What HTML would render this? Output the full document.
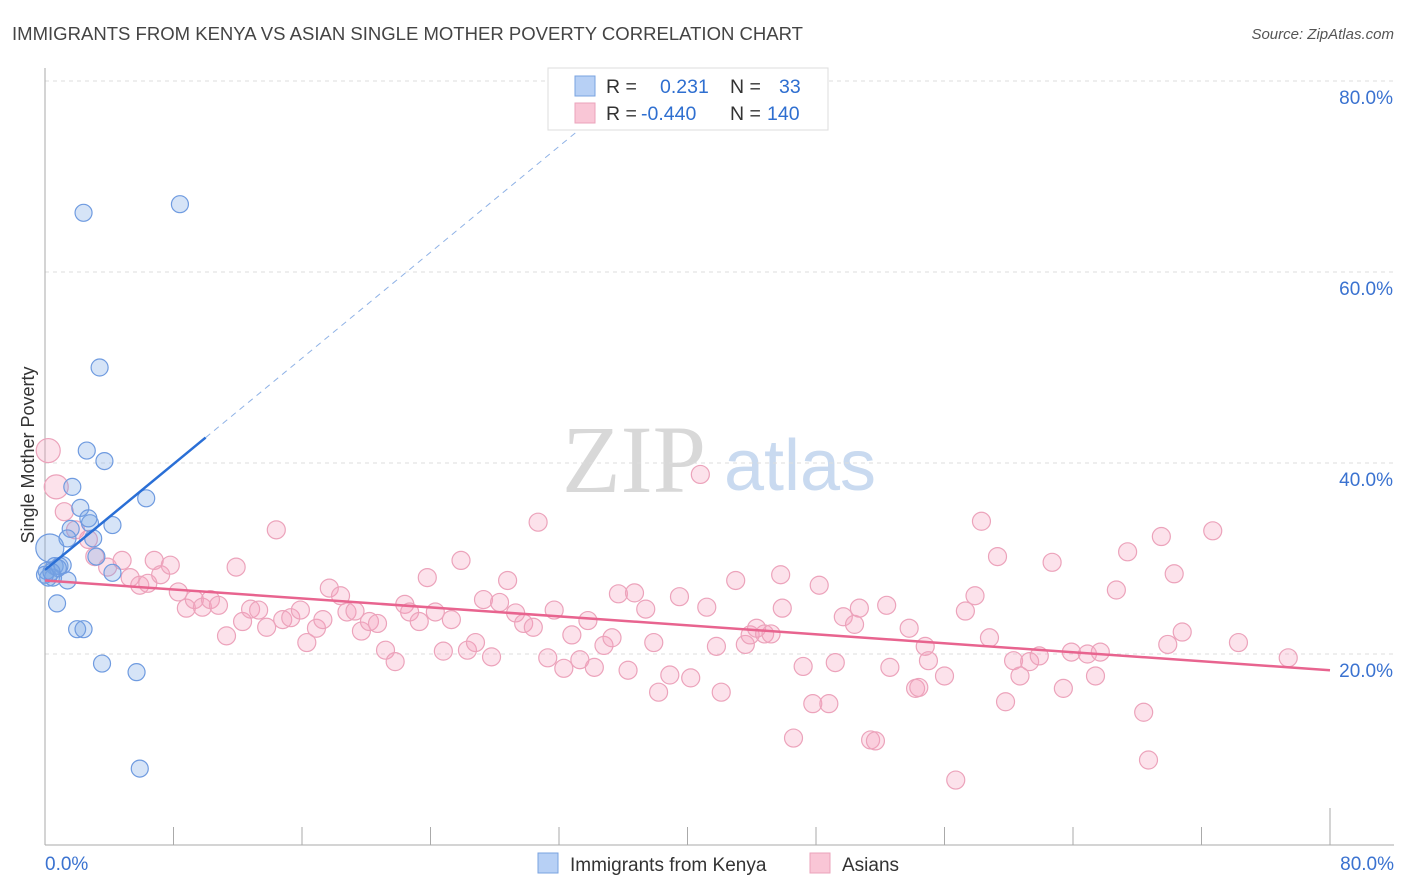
<!DOCTYPE html>
<html><head><meta charset="utf-8"><style>
body{margin:0;background:#fff;font-family:"Liberation Sans",sans-serif;}
svg{display:block}
</style></head><body>
<svg id="chart" width="1406" height="892" xmlns="http://www.w3.org/2000/svg">
<text x="12" y="40" font-size="18.5" fill="#444" textLength="791" lengthAdjust="spacingAndGlyphs">IMMIGRANTS FROM KENYA VS ASIAN SINGLE MOTHER POVERTY CORRELATION CHART</text>
<text x="1394" y="39" font-size="15" fill="#555" font-style="italic" text-anchor="end">Source: ZipAtlas.com</text>
<text x="634" y="492" font-size="96" font-family="Liberation Serif,serif" fill="#d8d8d8" text-anchor="middle">ZIP</text>
<text x="800" y="490" font-size="72" fill="#c9daf0" text-anchor="middle">atlas</text>
<text x="34" y="455" font-size="18" fill="#333" text-anchor="middle" transform="rotate(-90 34 455)">Single Mother Poverty</text>
<g id="grid"></g><g id="axes"></g><g id="pts"></g><g id="lines"></g>
<g>
<rect x="548" y="68" width="280" height="62" fill="#fff" stroke="#ddd"/>
<rect x="575" y="76" width="20" height="20" fill="#b7d0f5" stroke="#7aa3e0"/>
<rect x="575" y="103" width="20" height="20" fill="#f9c6d6" stroke="#eba3bb"/>
<text x="606" y="93" font-size="19.5" fill="#333">R = <tspan x="660" fill="#2f6fd0">0.231</tspan><tspan x="730" fill="#333">N =</tspan><tspan x="779" fill="#2f6fd0">33</tspan></text>
<text x="606" y="120" font-size="19.5" fill="#333">R = <tspan x="641" fill="#2f6fd0">-0.440</tspan><tspan x="730" fill="#333">N =</tspan><tspan x="767" fill="#2f6fd0">140</tspan></text>
</g>
<g>
<rect x="538" y="853" width="20" height="20" fill="#b7d0f5" stroke="#7aa3e0"/>
<text x="570" y="871" font-size="19" fill="#333">Immigrants from Kenya</text>
<rect x="810" y="853" width="20" height="20" fill="#f9c6d6" stroke="#eba3bb"/>
<text x="842" y="871" font-size="19" fill="#333">Asians</text>
</g>
</svg>
<script>
const yTicks=[20,40,60,80];
const yTickLabels=["20.0%","40.0%","60.0%","80.0%"];
const xTicks=[0,8,16,24,32,40,48,56,64,72,80];
const xEndLabels=["0.0%","80.0%"];
const kenyaX=[2.4,8.4,3.4,2.6,3.7,1.7,6.3,2.2,4.2,2.8,1.6,1.4,3.0,3.2,4.2,0.75,2.0,2.4,3.55,5.7,5.9,0.3,0.6,0.9,0.2,0.5,1.4,1.1,0.1,0.8,0,2.7,0.4];
const kenyaY=[66.2,67.1,50.0,41.3,40.2,37.5,36.3,35.3,33.5,33.7,33.1,32.1,32.1,30.2,28.5,25.3,22.6,22.6,19.0,18.1,8.0,31.1,29.2,29.2,28.0,28.0,27.7,29.3,28.7,29.0,28.3,34.2,28.6];
const asianX=[0.2,0.7,1.2,1.9,2.7,3.1,3.9,4.8,5.3,5.9,6.4,6.8,7.2,7.8,8.3,8.8,9.3,9.8,10.3,10.8,11.3,11.9,12.3,12.8,13.3,13.8,14.4,14.8,15.3,15.9,16.3,16.9,17.3,17.7,18.4,18.8,19.3,19.7,20.2,20.7,21.2,21.8,22.4,22.7,23.3,23.8,24.3,24.8,25.3,25.9,26.3,26.8,27.3,27.8,28.3,28.8,29.3,29.8,30.4,30.7,31.3,31.7,32.3,32.8,33.3,33.8,34.2,34.8,35.3,35.7,36.3,36.7,37.4,37.9,38.2,38.9,39.5,40.2,40.8,41.2,41.8,42.1,43.0,43.6,43.9,44.3,44.8,45.2,45.8,45.9,46.6,47.2,47.8,48.2,48.8,49.2,49.7,50.4,50.7,51.4,51.7,52.4,52.6,53.8,54.2,54.4,54.8,55.0,56.0,56.7,57.3,57.9,58.3,58.8,59.3,59.8,60.3,60.7,61.3,61.9,62.7,63.4,63.9,64.9,65.4,65.7,66.7,67.4,68.4,68.7,69.5,69.9,70.3,70.8,72.7,74.3,77.4];
const asianY=[41.3,37.5,34.9,33.0,32.0,30.2,29.1,29.8,28.0,27.2,27.4,29.8,28.3,29.3,26.5,24.8,25.7,24.9,25.7,25.1,21.9,29.1,23.4,24.7,24.6,22.8,33.0,23.6,23.8,24.6,21.2,22.7,23.6,26.9,26.1,24.4,24.5,22.4,23.4,23.2,20.4,19.2,25.2,24.4,23.4,28.0,24.4,20.3,23.6,29.8,20.4,21.2,25.7,19.7,25.4,27.7,24.3,23.2,22.8,33.8,19.6,24.6,18.5,22.0,19.4,23.5,18.6,20.9,21.7,26.3,18.3,26.4,24.7,21.2,16.0,17.8,26.0,17.5,38.8,24.9,20.8,16.0,27.7,21.0,22.0,22.7,22.1,22.1,28.3,24.8,11.2,18.7,14.8,27.2,14.8,19.1,23.9,23.1,24.8,11.0,10.9,25.1,18.6,22.7,16.4,16.5,20.8,19.3,17.7,6.8,24.5,26.1,33.9,21.7,30.2,15.0,19.3,17.7,19.2,19.8,29.6,16.4,20.2,20.0,17.7,20.2,26.7,30.7,13.9,8.9,32.3,21.0,28.4,22.3,32.9,21.2,19.6];
const kenyaBig=[21];
const asianBig=[0,1];
const kenyaTrend=[28.8,1.386];
const kenyaTrendEnd=10;
const asianTrend=[27.7,-0.1175];

const NS="http://www.w3.org/2000/svg";
const X0=45,X1=1330,Y0=845,Y80=81;
const sx=v=>X0+(v/80)*(X1-X0);
const sy=v=>Y0-(v/80)*(Y0-Y80);
function mk(tag,attrs,parent){const e=document.createElementNS(NS,tag);for(const k in attrs)e.setAttribute(k,attrs[k]);parent.appendChild(e);return e;}
const grid=document.getElementById('grid'),axes=document.getElementById('axes'),pts=document.getElementById('pts'),lines=document.getElementById('lines');
yTicks.forEach((t,i)=>{
  const l=mk('line',{x1:X0,x2:1394,y1:sy(t),y2:sy(t),stroke:'#ddd','stroke-dasharray':'4 4'},grid);
  
  
  const tx=mk('text',{x:1393,y:sy(t)+23,'font-size':19,fill:'#3a72d0','text-anchor':'end'},grid);
  tx.textContent=yTickLabels[i];
  
  
});
const ax=mk('line',{x1:X0,x2:1394,y1:Y0,y2:Y0,stroke:'#aaa'},axes);


const ay=mk('line',{x1:X0,x2:X0,y1:68,y2:Y0,stroke:'#aaa'},axes);


xTicks.forEach((t,i)=>{
  const tk=mk('line',{x1:sx(t),x2:sx(t),y1:(i==xTicks.length-1?808:827),y2:Y0,stroke:'#aaa'},axes);
  
  
});
[[0,45,'start'],[1,1394,'end']].forEach(([i,x,a])=>{
  const t=mk('text',{x:x,y:870,'font-size':19,fill:'#3a72d0','text-anchor':a},axes);
  t.textContent=xEndLabels[i];
  
  
});
asianX.forEach((v,i)=>{
  const c=mk('circle',{cx:sx(v),cy:sy(asianY[i]),r:asianBig.includes(i)?12:9,fill:'rgba(244,160,188,0.3)',stroke:'#eca3bb','stroke-width':1.2},pts);
  
  
});
kenyaX.forEach((v,i)=>{
  const c=mk('circle',{cx:sx(v),cy:sy(kenyaY[i]),r:kenyaBig.includes(i)?14:8.5,fill:'rgba(120,165,230,0.3)',stroke:'#6f9be0','stroke-width':1.2},pts);
  
  
});
const pl=mk('line',{x1:sx(0),y1:sy(asianTrend[0]),x2:sx(80),y2:sy(asianTrend[0]+80*asianTrend[1]),stroke:'#e8648f','stroke-width':2.5},lines);


const kxEnd=kenyaTrendEnd;
const bl=mk('line',{x1:sx(0),y1:sy(kenyaTrend[0]),x2:sx(kxEnd),y2:sy(kenyaTrend[0]+kxEnd*kenyaTrend[1]),stroke:'#2a6fd6','stroke-width':2.5},lines);


const xTop=(80-kenyaTrend[0])/kenyaTrend[1];
const bd=mk('line',{x1:sx(kxEnd),y1:sy(kenyaTrend[0]+kxEnd*kenyaTrend[1]),x2:sx(xTop),y2:sy(80),stroke:'#8fb2e6','stroke-width':1,'stroke-dasharray':'6 5'},lines);


</script>
</body></html>
